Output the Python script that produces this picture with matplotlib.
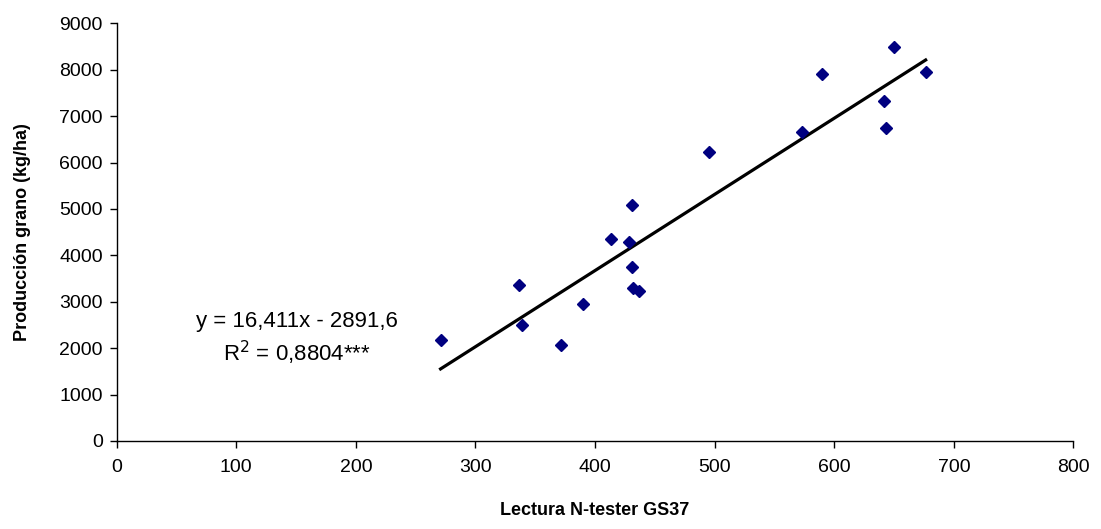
import matplotlib
matplotlib.use("Agg")
import matplotlib.pyplot as plt
import numpy as np

plt.rcParams['font.family'] = ['Liberation Sans', 'DejaVu Sans']

# Data
lectura = [270.8, 336.6, 338.5, 371.4, 389.5, 413.2, 428.5, 430.7, 430.7,
           431.8, 436.9, 495.2, 572.9, 589.6, 641.4, 643.0, 649.7, 676.4]
produccion = [2183, 3355, 2499, 2062, 2950, 4359, 4294, 5085, 3756,
              3290, 3232, 6227, 6658, 7908, 7326, 6744, 8490, 7951]

slope = 16.411
intercept = -2891.6

x_ticks = [0, 100, 200, 300, 400, 500, 600, 700, 800]
y_ticks = [0, 1000, 2000, 3000, 4000, 5000, 6000, 7000, 8000, 9000]

fig = plt.figure(figsize=(11.01, 5.29), dpi=100)
ax = fig.add_axes([0.106, 0.1664, 0.869, 0.7896])

ax.plot(lectura, produccion, linestyle='none', marker='D', markersize=6.5,
        color='#000080', markeredgecolor='#000080', zorder=3)

xl = np.array([min(lectura), max(lectura)])
ax.plot(xl, slope * xl + intercept, color='black', linewidth=2.3, zorder=2)

ax.set_xlim(0, 800)
ax.set_ylim(0, 9000)
ax.set_xticks(x_ticks)
ax.set_yticks(y_ticks)
ax.tick_params(axis='both', direction='out', length=5, width=1, labelsize=14,
               colors='black')
ax.tick_params(axis='y', pad=5)
ax.tick_params(axis='x', pad=8)
for s in ['top', 'right']:
    ax.spines[s].set_visible(False)
for s in ['left', 'bottom']:
    ax.spines[s].set_linewidth(1.0)

ax.set_xlabel('Lectura N-tester GS37', fontsize=13, fontweight='bold', labelpad=19)
ax.set_ylabel('Producción grano (kg/ha)', fontsize=13, fontweight='bold', labelpad=20)

ax.text(151, 2570, 'y = 16,411x - 2891,6', fontsize=16, ha='center', va='center')
ax.text(151, 1900, r'R$^2$ = 0,8804***', fontsize=16, ha='center', va='center')

fig.savefig('out.png', dpi=100)
